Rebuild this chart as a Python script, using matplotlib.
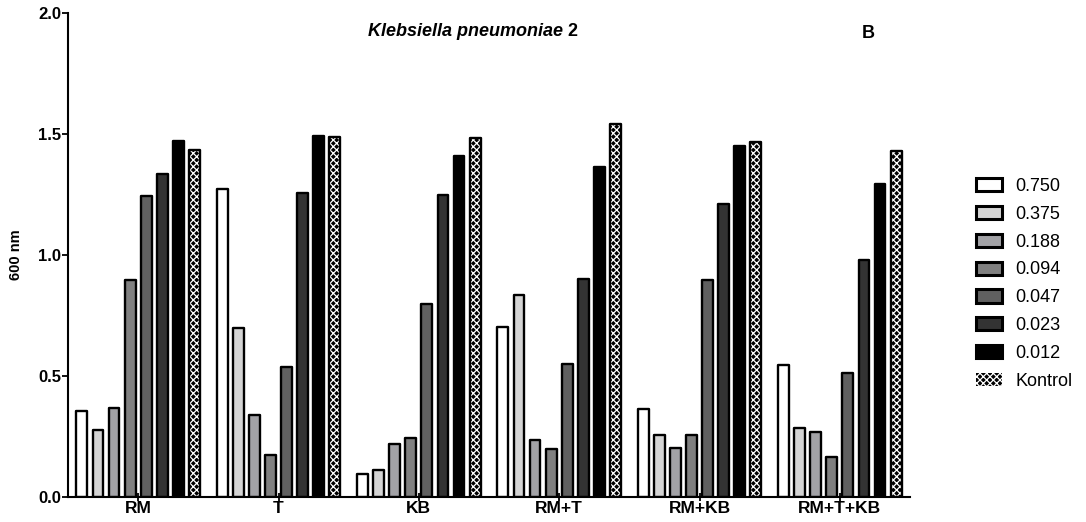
import numpy as np
import matplotlib
matplotlib.use("Agg")
import matplotlib.pyplot as plt
from matplotlib.patches import Patch

plt.rcParams['font.family'] = ['Liberation Sans', 'DejaVu Sans']
plt.rcParams['hatch.linewidth'] = 0.9

# Treatment groups and dilution series
groups = ["RM", "T", "KB", "RM+T", "RM+KB", "RM+T+KB"]
series = ["0.750", "0.375", "0.188", "0.094", "0.047", "0.023", "0.012", "Kontrol"]

# Absorbance at 600 nm, one list per series (values across groups)
s_0750 = [0.355, 1.274, 0.095, 0.704, 0.363, 0.545]
s_0375 = [0.278, 0.700, 0.113, 0.834, 0.256, 0.288]
s_0188 = [0.367, 0.339, 0.221, 0.235, 0.205, 0.270]
s_0094 = [0.897, 0.174, 0.246, 0.201, 0.257, 0.168]
s_0047 = [1.245, 0.538, 0.797, 0.552, 0.896, 0.512]
s_0023 = [1.335, 1.255, 1.247, 0.900, 1.212, 0.979]
s_0012 = [1.472, 1.491, 1.408, 1.365, 1.451, 1.295]
s_kontrol = [1.433, 1.488, 1.482, 1.540, 1.468, 1.430]

values = [s_0750, s_0375, s_0188, s_0094, s_0047, s_0023, s_0012, s_kontrol]
fills = ["#ffffff", "#d4d4d4", "#a2a2a6", "#808080", "#606060", "#333333", "#000000", "#000000"]

y_ticks = [0.0, 0.5, 1.0, 1.5, 2.0]

fig = plt.figure(figsize=(10.86, 5.22), dpi=100)
ax = fig.add_axes([68 / 1086, (522 - 497.3) / 522, (910 - 68) / 1086, (497.3 - 13) / 522])

x = np.arange(len(groups))
step = 0.1146
width = 0.077
edge_lw = 1.7

for i, (name, vals, fc) in enumerate(zip(series, values, fills)):
    pos = x + (i - 3.5) * step
    if name == "Kontrol":
        # checkered fill: white hatch on black, then a black outline on top
        ax.bar(pos, vals, width, color="black", edgecolor="white", hatch="xxxxx",
               linewidth=0, zorder=2)
        ax.bar(pos, vals, width, fill=False, edgecolor="black",
               linewidth=edge_lw, joinstyle="round", zorder=3)
    else:
        ax.bar(pos, vals, width, color=fc, edgecolor="black",
               linewidth=edge_lw, joinstyle="round", zorder=2)

ax.set_xlim(-0.5, 5.5)
ax.set_ylim(0, 2.0)
ax.set_yticks(y_ticks)
ax.set_yticklabels([f"{t:.1f}" for t in y_ticks], fontsize=12, fontweight="bold")
ax.set_xticks(x)
ax.set_xticklabels(groups, fontsize=12.5, fontweight="bold")
ax.tick_params(axis="y", direction="out", length=4, width=1.3, pad=1)
ax.tick_params(axis="x", direction="inout", length=6, width=1.3, pad=0)

for side in ("top", "right"):
    ax.spines[side].set_visible(False)
for side in ("left", "bottom"):
    ax.spines[side].set_linewidth(1.5)

ax.set_ylabel("600 nm", fontsize=10.5, fontweight="bold", labelpad=11)

# Title: italic species name followed by upright strain number
t1 = fig.text(368 / 1086, 1 - 32 / 522, "Klebsiella pneumoniae", fontsize=13,
              fontweight="bold", fontstyle="italic", ha="left", va="center")
fig.canvas.draw()
bb = t1.get_window_extent()
fig.text((bb.x1 + 4) / 1086, 1 - 32 / 522, "2", fontsize=13, fontweight="bold",
         ha="left", va="center")
fig.text(868 / 1086, 1 - 33 / 522, "B", fontsize=13, fontweight="bold",
         ha="center", va="center")

handles = []
for name, fc in zip(series, fills):
    if name == "Kontrol":
        handles.append(Patch(facecolor="black", edgecolor="white", hatch="xxxxx",
                             linewidth=0))
    else:
        handles.append(Patch(facecolor=fc, edgecolor="black", linewidth=2.2))
leg = fig.legend(handles, series, loc="upper left",
                 bbox_to_anchor=(976 / 1086, 1 - 178 / 522),
                 frameon=False, fontsize=13, handlelength=1.45, handleheight=0.75,
                 handletextpad=0.75, labelspacing=0.6, borderpad=0, borderaxespad=0)

fig.savefig("out.png", dpi=100)
